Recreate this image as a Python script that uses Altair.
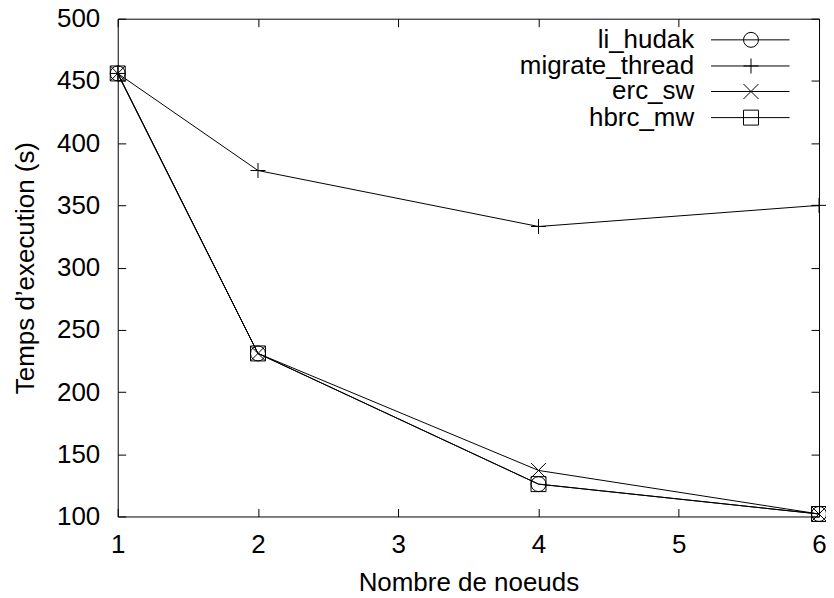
import altair as alt
import pandas as pd

# ---- data ----
x_nodes = [1, 2, 4, 6]
series_names = ["li_hudak", "migrate_thread", "erc_sw", "hbrc_mw"]
li_hudak = [456, 231, 126, 102]
migrate_thread = [456, 378, 333, 350]
erc_sw = [456, 231, 137, 102]
hbrc_mw = [456, 231, 126, 102]
x_ticks = [1, 2, 3, 4, 5, 6]
y_ticks = [100, 150, 200, 250, 300, 350, 400, 450, 500]

# ---- styling / layout ----
FONT = "Liberation Sans"
FS = 26
shape_paths = ["circle", "M-1,0H1M0,-1V1", "M-1,-1L1,1M-1,1L1,-1", "square"]
# legend placement (data units)
leg_rows_y = [483, 462, 441.5, 420.5]
leg_text_x = 5.11
leg_line_x1 = 5.23
leg_line_x2 = 5.79
leg_mark_x = 5.515

values = [li_hudak, migrate_thread, erc_sw, hbrc_mw]
rows = []
for name, vals in zip(series_names, values):
    for xv, yv in zip(x_nodes, vals):
        rows.append({"series": name, "x": xv, "y": yv})
df = pd.DataFrame(rows)

leg = pd.DataFrame({
    "series": series_names,
    "ly": leg_rows_y,
    "tx": [leg_text_x] * 4,
    "x1": [leg_line_x1] * 4,
    "x2": [leg_line_x2] * 4,
    "xm": [leg_mark_x] * 4,
})

xs = alt.Scale(domain=[1, 6], nice=False, zero=False)
ys = alt.Scale(domain=[100, 500], nice=False, zero=False)
shape_scale = alt.Scale(domain=series_names, range=shape_paths)

common = dict(domain=False, grid=False, ticks=True, tickSize=8, tickColor="black",
              tickWidth=1, labelFont=FONT, labelFontSize=FS, labelColor="black",
              titleFont=FONT, titleFontSize=FS, titleColor="black",
              titleFontWeight="normal", labelFlush=False, labelOverlap=False)

x_axis = alt.Axis(values=x_ticks, offset=-8, labelPadding=15, format="d",
                  title="Nombre de noeuds", titlePadding=12, **common)
y_axis = alt.Axis(values=y_ticks, offset=-8, labelPadding=18, format="d",
                  title="Temps d’execution (s)", titlePadding=18, **common)
x_axis_top = alt.Axis(orient="top", values=x_ticks, offset=-8, labels=False,
                      title="", **common)
y_axis_right = alt.Axis(orient="right", values=y_ticks, offset=-8, labels=False,
                        title="", **common)

lines = alt.Chart(df).mark_line(color="black", strokeWidth=1).encode(
    x=alt.X("x:Q", scale=xs, axis=x_axis),
    y=alt.Y("y:Q", scale=ys, axis=y_axis),
    detail="series:N",
    order="x:Q",
)

mirror = alt.Chart(df).mark_point(opacity=0).encode(
    x=alt.X("x:Q", scale=xs, axis=x_axis_top),
    y=alt.Y("y:Q", scale=ys, axis=y_axis_right),
)

points = alt.Chart(df).mark_point(filled=False, color="black", strokeWidth=1,
                                  size=225, opacity=1).encode(
    x=alt.X("x:Q", scale=xs, axis=None),
    y=alt.Y("y:Q", scale=ys, axis=None),
    shape=alt.Shape("series:N", scale=shape_scale, legend=None),
)

leg_text = alt.Chart(leg).mark_text(align="right", baseline="middle", font=FONT,
                                    fontSize=FS, color="black").encode(
    x=alt.X("tx:Q", scale=xs, axis=None),
    y=alt.Y("ly:Q", scale=ys, axis=None),
    text="series:N",
)

leg_rule = alt.Chart(leg).mark_rule(color="black", strokeWidth=1).encode(
    x=alt.X("x1:Q", scale=xs, axis=None),
    x2="x2:Q",
    y=alt.Y("ly:Q", scale=ys, axis=None),
)

leg_pts = alt.Chart(leg).mark_point(filled=False, color="black", strokeWidth=1,
                                    size=225, opacity=1).encode(
    x=alt.X("xm:Q", scale=xs, axis=None),
    y=alt.Y("ly:Q", scale=ys, axis=None),
    shape=alt.Shape("series:N", scale=shape_scale, legend=None),
)

chart = alt.layer(lines, mirror, points, leg_rule, leg_pts, leg_text).resolve_axis(
    x="independent", y="independent"
).properties(
    width=703,
    height=499,
    autosize=alt.AutoSizeParams(type="none"),
    padding={"left": 110, "top": 10, "right": 7, "bottom": 76},
    background="white",
).configure_view(stroke="black", strokeWidth=1)

chart.save("out.html", embed_options={"renderer": "svg", "actions": False})
